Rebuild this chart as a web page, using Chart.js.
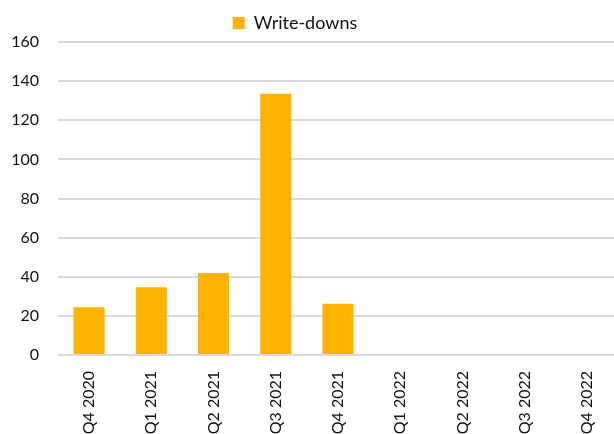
<!DOCTYPE html>
<html>
<head>
<meta charset="utf-8">
<script src="https://cdn.jsdelivr.net/npm/chart.js@4"></script>
<style>
  html, body { margin: 0; padding: 0; background: #fff; overflow: hidden; }
  #wrap { width: 620px; height: 434px; }
</style>
</head>
<body>
<div id="wrap"><canvas id="chart"></canvas></div>
<script>
const quarters = ['Q4 2020', 'Q1 2021', 'Q2 2021', 'Q3 2021', 'Q4 2021', 'Q1 2022', 'Q2 2022', 'Q3 2022', 'Q4 2022'];
const writeDowns = [24.4, 34.6, 41.9, 133.6, 26.2, null, null, null, null];
const yTicks = [0, 20, 40, 60, 80, 100, 120, 140, 160];

const tickFont = { family: 'Lato, "Open Sans", sans-serif', size: 16 };
const legendFont = { family: 'Lato, "Open Sans", sans-serif', size: 18 };

// nudge the legend a bit left, like the original
const legendShift = {
  id: 'legendShift',
  afterLayout(chart) {
    chart.legend.left -= 14;
    chart.legend.right -= 14;
  }
};

new Chart(document.getElementById('chart'), {
  type: 'bar',
  data: {
    labels: quarters,
    datasets: [{
      label: 'Write-downs',
      data: writeDowns,
      backgroundColor: '#FFB300',
      borderWidth: 0,
      barPercentage: 0.5,
      categoryPercentage: 1
    }]
  },
  options: {
    responsive: true,
    maintainAspectRatio: false,
    animation: false,
    layout: { padding: { top: 6, right: 2, left: 0, bottom: 0 } },
    plugins: {
      legend: {
        display: true,
        position: 'top',
        labels: {
          color: '#111',
          font: legendFont,
          boxWidth: 12,
          boxHeight: 12,
          padding: 8
        }
      },
      tooltip: { enabled: false }
    },
    scales: {
      x: {
        grid: { display: false },
        border: { display: false },
        ticks: {
          color: '#111',
          font: tickFont,
          minRotation: 90,
          maxRotation: 90,
          padding: 8
        },
        afterFit: scale => { scale.height = 79; }
      },
      y: {
        min: 0,
        max: 160,
        afterBuildTicks: scale => { scale.ticks = yTicks.map(v => ({ value: v })); },
        grid: { color: '#D9D9E6', lineWidth: 2, drawTicks: false },
        border: { display: false },
        ticks: { color: '#111', font: tickFont, padding: 19 },
        afterFit: scale => { scale.width = 58; }
      }
    }
  },
  plugins: [legendShift]
});
</script>
</body>
</html>
